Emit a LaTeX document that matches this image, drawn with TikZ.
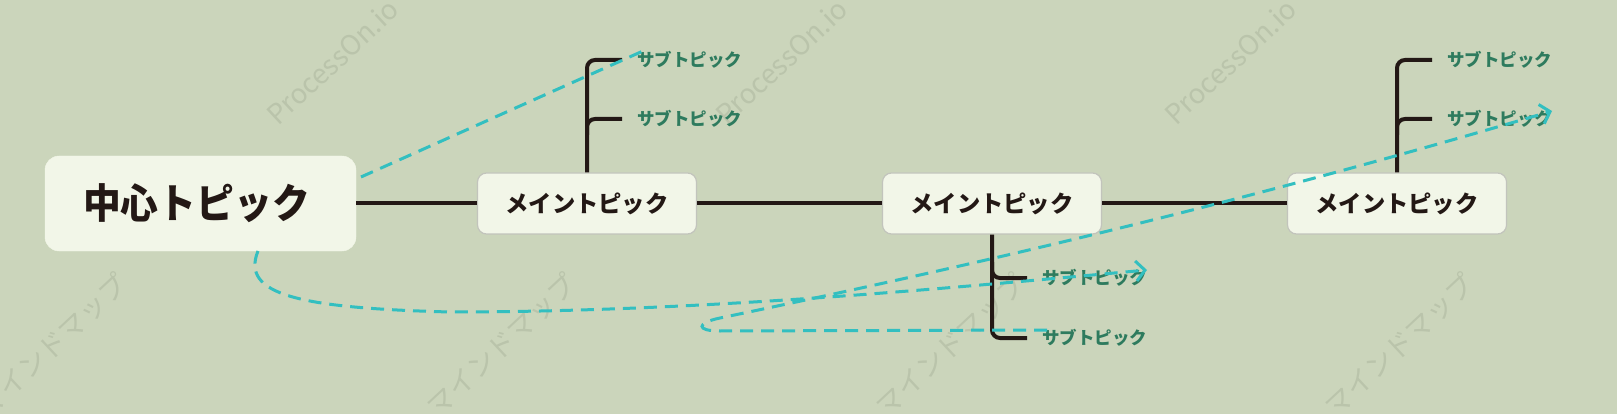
\documentclass[tikz,border=0pt]{standalone}
\usepackage{fontspec}
\newfontfamily\jpfont{Noto Sans CJK JP}
\usetikzlibrary{arrows.meta}
\definecolor{bgcol}{HTML}{CBD5BB}
\definecolor{boxcol}{HTML}{F2F6E8}
\definecolor{linecol}{HTML}{231815}
\definecolor{subcol}{HTML}{2E7B5E}
\definecolor{relcol}{HTML}{33BFC0}
\definecolor{edgecol}{HTML}{C2C4BC}
\definecolor{markcol}{HTML}{BAC4AB}
\tikzset{
  hub/.style={draw=boxcol, fill=boxcol, rounded corners=14pt, minimum width=311pt,
    minimum height=95pt, inner sep=0pt, text=linecol,
    font=\jpfont\bfseries\fontsize{37.8}{40}\selectfont},
  mainbox/.style={draw=edgecol, line width=1.2pt, fill=boxcol, rounded corners=9pt,
    minimum width=219pt, minimum height=61pt, inner sep=0pt, text=linecol,
    font=\jpfont\bfseries\fontsize{23.3}{25}\selectfont},
  subtext/.style={anchor=west, inner xsep=15pt, inner ysep=0pt, text=subcol,
    font=\jpfont\bfseries\fontsize{17.5}{19}\selectfont},
  trunk/.style={draw=linecol, line width=4pt},
  branch/.style={draw=linecol, line width=4pt, rounded corners=8pt},
  rel/.style={draw=relcol, line width=3pt, dash pattern=on 13pt off 8pt},
  reltip/.style={-{Straight Barb[length=9pt,width=20pt,line width=3pt]}},
  wmark/.style={text=markcol, rotate=43, inner sep=0pt,
    font=\jpfont\fontsize{27.5}{28}\selectfont}
}
\begin{document}
\begin{tikzpicture}[x=1pt,y=-1pt]
  \useasboundingbox (0,0) rectangle (1617,414);
  \fill[bgcol] (0,0) rectangle (1617,414);
  \clip (0,0) rectangle (1617,414);
  \draw
    (278,127) node[wmark,anchor=base west] (w1){ProcessOn.io マインドマップ}
    (727,127) node[wmark,anchor=base west] (w2){ProcessOn.io マインドマップ}
    (1176,127) node[wmark,anchor=base west] (w3){ProcessOn.io マインドマップ}
    (130,287) node[wmark,anchor=base east] (w4){ProcessOn.io マインドマップ}
    (579,287) node[wmark,anchor=base east] (w5){ProcessOn.io マインドマップ}
    (1028,287) node[wmark,anchor=base east] (w6){ProcessOn.io マインドマップ}
    (1477,287) node[wmark,anchor=base east] (w7){ProcessOn.io マインドマップ};
  \draw
    (200.5,203.5) node[hub] (c){\scalebox{1}[1.08]{中心トピック}\hspace*{8pt}}
    (587,203.5) node[mainbox] (m1){メイントピック}
    (992,203.5) node[mainbox] (m2){メイントピック}
    (1397,203.5) node[mainbox] (m3){メイントピック}
    (622,60) node[subtext] (s11){サブトピック}
    (622,119) node[subtext] (s12){サブトピック}
    (1027,278) node[subtext] (s21){サブトピック}
    (1027,338) node[subtext] (s22){サブトピック}
    (1432,60) node[subtext] (s31){サブトピック}
    (1432,119) node[subtext] (s32){サブトピック};
  \coordinate (r1a) at (361,177);
  \coordinate (r1b) at (643,51);
  \coordinate (r2a) at (258,251);
  \coordinate (r2b) at (1147,270);
  \coordinate (r3a) at (1047,330);
  \coordinate (r3b) at (1552,111);
  \begin{scope}[trunk]
    \draw (c) -- (m1);
    \draw (m1) -- (m2);
    \draw (m2) -- (m3);
  \end{scope}
  \begin{scope}[branch]
    \draw (m1.north) |- (s11.west);
    \draw (m1.north |- s12.west) ++(0,16) |- (s12.west);
    \draw (m2.south) |- (s22.west);
    \draw (m2.south |- s21.west) ++(0,-16) |- (s21.west);
    \draw (m3.north) |- (s31.west);
    \draw (m3.north |- s32.west) ++(0,16) |- (s32.west);
  \end{scope}
  \begin{scope}[rel]
    \draw (r1a) -- (r1b);
    \draw[reltip] (r2a) .. controls (240,295) and (300,308) .. (450,312)
      .. controls (700,312) and (950,288) .. (r2b);
    \draw[reltip] (r3a) -- (720,331) .. controls (696,331) and (696,323) .. (720,318)
      .. controls (1000,260) and (1250,200) .. (r3b);
  \end{scope}
\end{tikzpicture}
\end{document}
